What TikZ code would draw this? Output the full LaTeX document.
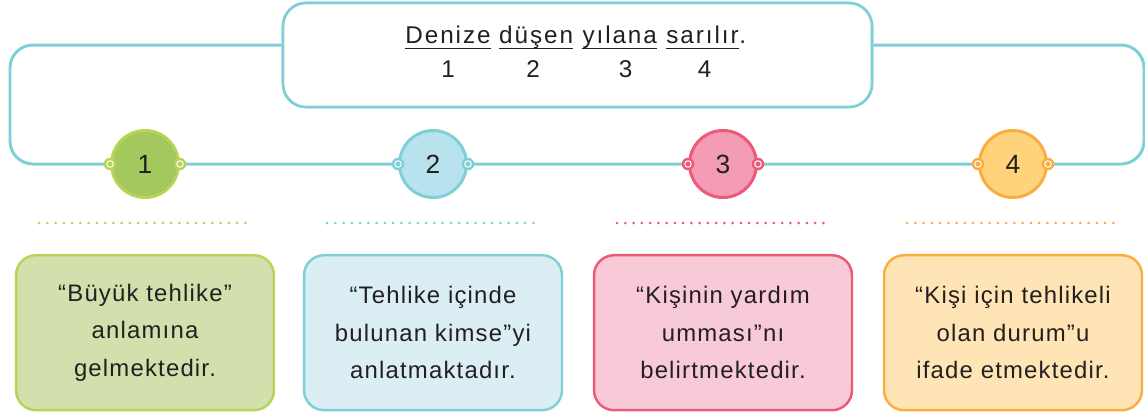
\documentclass[tikz,border=0pt]{standalone}
\usepackage{fontspec}
\setmainfont{Liberation Sans}[LetterSpace=5]
\usetikzlibrary{positioning,calc}

\definecolor{ink}{HTML}{231F20}
\definecolor{wireteal}{HTML}{7FCFD6}
\definecolor{leafline}{HTML}{B8D456}
\definecolor{leaffill}{HTML}{A2C85E}
\definecolor{leafcard}{HTML}{D1E0AC}
\definecolor{skyline}{HTML}{7ECFD6}
\definecolor{skyfill}{HTML}{B8E2EE}
\definecolor{skycard}{HTML}{DAEEF4}
\definecolor{roseline}{HTML}{EC5A77}
\definecolor{rosefill}{HTML}{F49BB5}
\definecolor{rosecard}{HTML}{F8CAD7}
\definecolor{sunline}{HTML}{FBAE3F}
\definecolor{sunfill}{HTML}{FFD27C}
\definecolor{suncard}{HTML}{FFE5B5}

\begin{document}
\begin{tikzpicture} [
    x=0.02cm, y=-0.02cm,
    wire/.style={draw=wireteal, line width=1.7pt, rounded corners=0.46cm},
    title/.style={rectangle, rounded corners=0.46cm, draw=wireteal, line width=1.5pt, fill=white, minimum width=11.78cm, minimum height=2.08cm},
    word/.style={inner sep=0pt, text=ink, font=\fontsize{13.8}{16}\selectfont\addfontfeature{LetterSpace=8}},
    uline/.style={draw=ink, line width=0.8pt},
    num/.style={circle, line width=1.7pt, minimum size=1.34cm, inner sep=0pt, text=ink, font=\fontsize{15}{18}\selectfont},
    joint/.style={circle, inner sep=0pt, minimum size=0.25cm,
        path picture={\draw[white, line width=0.55pt] (path picture bounding box.center) circle (0.065cm);}},
    card/.style={rectangle, rounded corners=0.4cm, line width=1.4pt, minimum width=5.16cm, minimum height=3.1cm, align=center, text=ink, font=\fontsize{13.6}{21.2}\selectfont},
    sep/.style={line width=1.7pt, line cap=round, dash pattern=on 0pt off 4.7pt},
    ]
    \useasboundingbox (0,0) rectangle (1145,414);

    %Loop
    \coordinate (lt) at (10,45);
    \coordinate (lb) at (10,164);
    \coordinate (rb) at (1144,164);
    \coordinate (rt) at (1144,45);
    \node[title] (tb) at (577.5,55) {};
    \draw[wire] (tb.west |- lt) -- (lt) -- (lb) -- (rb) -- (rt) -- (tb.east |- rt);
    \node[title] at (tb) {};

    %Sentence
    \node[word, anchor=base] (w1) at (448,43) {Denize};
    \node[word] (w2) [base right=4.5pt of w1] {düşen};
    \node[word] (w3) [base right=5pt of w2] {yılana};
    \node[word] (w4) [base right=5pt of w3] {sarılır};
    \node[word] (stop) [base right=0pt of w4] {.};
    \draw[uline] ([yshift=-3pt]w1.base west) -- ([yshift=-3pt]w1.base east);
    \draw[uline] ([yshift=-3pt]w2.base west) -- ([yshift=-3pt]w2.base east);
    \draw[uline] ([yshift=-3pt]w3.base west) -- ([yshift=-3pt]w3.base east);
    \draw[uline] ([yshift=-3pt]w4.base west) -- ([yshift=-3pt]w4.base east);
    \node[word, anchor=base] (n1) at ($(w1.base)+(0,34)$) {1};
    \node[word, anchor=base] (n2) at ($(w2.base)+(-3,34)$) {2};
    \node[word, anchor=base] (n3) at ($(w3.base)+(6,34)$) {3};
    \node[word, anchor=base] (n4) at ($(w4.base)+(2,34)$) {4};

    %Circles
    \node[num, draw=leafline, fill=leaffill] (c1) at (145,164) {1};
    \node[num, draw=skyline, fill=skyfill]   (c2) at (433,164) {2};
    \node[num, draw=roseline, fill=rosefill] (c3) at (723,164) {3};
    \node[num, draw=sunline, fill=sunfill]   (c4) at (1013,164) {4};
    \node[joint, fill=leafline] (c1l) at (c1.west) {};
    \node[joint, fill=leafline] (c1r) at (c1.east) {};
    \node[joint, fill=skyline]  (c2l) at (c2.west) {};
    \node[joint, fill=skyline]  (c2r) at (c2.east) {};
    \node[joint, fill=roseline] (c3l) at (c3.west) {};
    \node[joint, fill=roseline] (c3r) at (c3.east) {};
    \node[joint, fill=sunline]  (c4l) at (c4.west) {};
    \node[joint, fill=sunline]  (c4r) at (c4.east) {};

    %Dotted rules
    \draw[sep, leafline] ($(c1)+(-106,59)$) -- ($(c1)+(106,59)$);
    \draw[sep, skyline]  ($(c2)+(-106,59)$) -- ($(c2)+(106,59)$);
    \draw[sep, roseline] ($(c3)+(-106,59)$) -- ($(c3)+(106,59)$);
    \draw[sep, sunline]  ($(c4)+(-106,59)$) -- ($(c4)+(106,59)$);

    %Cards
    \node[card, draw=leafline, fill=leafcard] (k1) [below=1.1cm of c1] {“Büyük tehlike”\\anlamına\\gelmektedir.};
    \node[card, draw=skyline, fill=skycard]   (k2) [below=1.1cm of c2] {“Tehlike içinde\\bulunan kimse”yi\\anlatmaktadır.};
    \node[card, draw=roseline, fill=rosecard] (k3) [below=1.1cm of c3] {“Kişinin yardım\\umması”nı\\belirtmektedir.};
    \node[card, draw=sunline, fill=suncard]   (k4) [below=1.1cm of c4] {“Kişi için tehlikeli\\olan durum”u\\ifade etmektedir.};

\end{tikzpicture}
\end{document}
